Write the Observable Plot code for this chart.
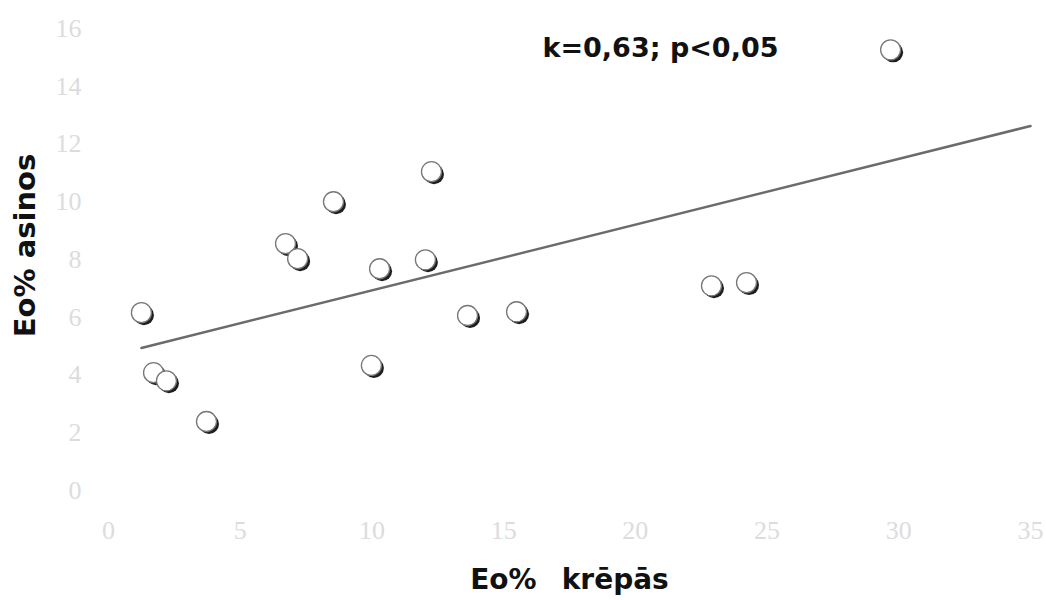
<!DOCTYPE html>
<html>
<head>
<meta charset="utf-8">
<script src="https://cdn.jsdelivr.net/npm/d3@7"></script>
<script src="https://cdn.jsdelivr.net/npm/@observablehq/plot@0.6"></script>
<style>
  html, body { margin: 0; padding: 0; background: #fff; }
</style>
</head>
<body>
<div id="chart"></div>
<script>
const krepas = [1.25, 1.71, 2.2, 3.72, 6.72, 7.18, 8.54, 10.29, 9.98, 12.03, 12.26, 13.63, 15.49, 22.89, 24.22, 29.69];
const asinos = [6.16, 4.08, 3.8, 2.39, 8.55, 8.03, 10.0, 7.68, 4.33, 7.99, 11.04, 6.06, 6.19, 7.09, 7.2, 15.26];
const xTicks = [0, 5, 10, 15, 20, 25, 30, 35];
const yTicks = [0, 2, 4, 6, 8, 10, 12, 14, 16];
const xLabel = "Eo%\u00a0\u00a0\u2009krēpās";
const yLabel = "Eo% asinos";
const note = "k=0,63; p<0,05";

const pts = krepas.map((x, i) => ({x, y: asinos[i]}));

// least-squares fit computed from the data
const mx = d3.mean(krepas), my = d3.mean(asinos);
const slope = d3.sum(pts, d => (d.x - mx) * (d.y - my)) / d3.sum(pts, d => (d.x - mx) ** 2);
const icpt = my - slope * mx;
const xEnd = xTicks[xTicks.length - 1];
const fit = [d3.min(krepas), xEnd].map(x => ({x, y: icpt + slope * x}));

const tickStyle = {tickSize: 0, fontSize: 26, fill: "#dcdcdc", fontFamily: "Liberation Serif", label: null};
const titleStyle = {text: d => d, fontWeight: "bold", fill: "#111", fontFamily: "DejaVu Sans",
  textAnchor: "middle", lineAnchor: "middle"};

const chart = Plot.plot({
  width: 1046,
  height: 600,
  marginLeft: 108,
  marginRight: 16,
  marginTop: 28,
  marginBottom: 110,
  x: {domain: [0, 35]},
  y: {domain: [0, 16]},
  style: {background: "#fff", fontFamily: "DejaVu Sans"},
  marks: [
    Plot.axisX({...tickStyle, ticks: xTicks, tickPadding: 30}),
    Plot.axisY({...tickStyle, ticks: yTicks, tickPadding: 27}),
    Plot.line(fit, {x: "x", y: "y", stroke: "#6b6b6b", strokeWidth: 2.5}),
    Plot.dot(pts, {x: "x", y: "y", r: 10, fill: "#1e1e1e", dx: 2.5, dy: 2.5}),
    Plot.dot(pts, {x: "x", y: "y", r: 10, fill: "#fff", stroke: "#777", strokeWidth: 1.3}),
    Plot.text([note], {...titleStyle, frameAnchor: "top-left", dx: 434, dy: 20, textAnchor: "start", fontSize: 27}),
    Plot.text([xLabel], {...titleStyle, frameAnchor: "bottom", dy: 90, fontSize: 28}),
    Plot.text([yLabel], {...titleStyle, frameAnchor: "left", dx: -83, dy: -14, rotate: -90, fontSize: 29})
  ]
});
document.getElementById("chart").appendChild(chart);
</script>
</body>
</html>
